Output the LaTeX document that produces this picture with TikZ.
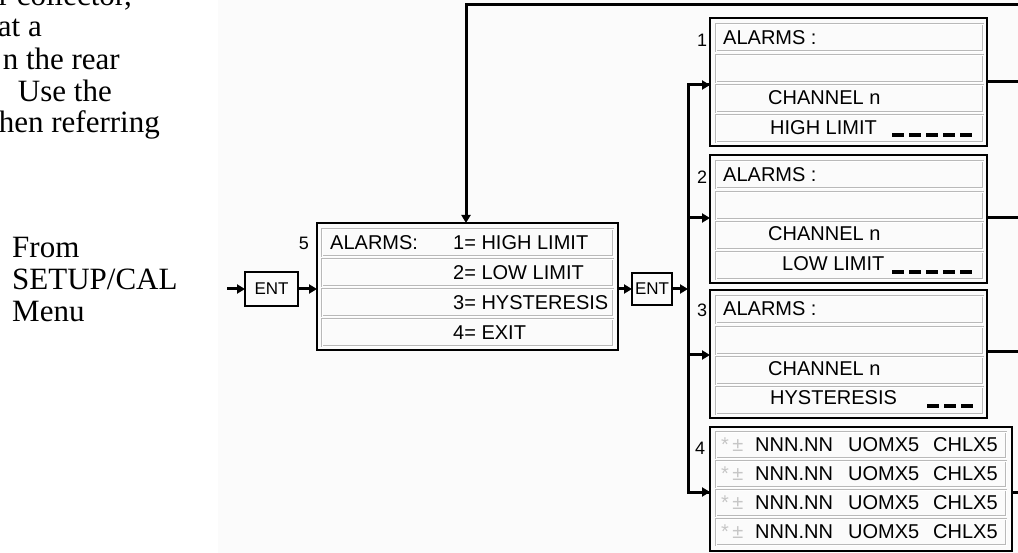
\documentclass[tikz,border=0pt]{standalone}
\usepackage{fontspec}
\setmainfont{Liberation Serif}
\newfontfamily\lcd{Liberation Sans}
\usetikzlibrary{arrows.meta}
\begin{document}
\begin{tikzpicture}[x=1pt,y=-1pt,
  outerbox/.style={draw=black,line width=2pt,inner sep=0pt,outer sep=0pt,anchor=north west},
  rowbox/.style={draw=gray!55,double=white,double distance=0.9pt,line width=0.5pt,inner sep=0pt,outer sep=0pt,anchor=north west},
  lcdtext/.style={font=\lcd\fontsize{20}{20}\selectfont,inner sep=0pt,anchor=west},
  numlabel/.style={font=\lcd\fontsize{18}{18}\selectfont,inner sep=0pt},
  entbox/.style={draw=black,line width=2pt,inner sep=0pt,outer sep=0pt,font=\lcd\fontsize{17}{17}\selectfont},
  wire/.style={draw=black,line width=3pt},
  arr/.style={wire,-{Triangle[length=8pt,width=9pt]}},
  dashline/.style={draw=black,line width=3.5pt,dash pattern=on 12pt off 5pt},
  serif/.style={font=\fontsize{31}{32}\selectfont,inner sep=0pt}]
\useasboundingbox (0,0) rectangle (1018,553);
\clip (0,0) rectangle (1018,553);
\fill[black!1.5] (218,0) rectangle (1018,553);

% left prose
\node[serif,anchor=base east] (p1) at (132,6) {r collector,};
\node[serif,anchor=base east] (p2) at (42,37) {at a};
\node[serif,anchor=base east] (p3) at (120,70) {n the rear};
\node[serif,anchor=base east] (p4) at (112,102) {Use the};
\node[serif,anchor=base east] (p5) at (160,133) {hen referring};
\node[serif,anchor=base west] (f1) at (12,258) {From};
\node[serif,anchor=base west] (f2) at (12,290) {SETUP/CAL};
\node[serif,anchor=base west] (f3) at (12,322) {Menu};

% main menu box
\node[outerbox,minimum width=301,minimum height=127] (m) at (317,223) {};
\foreach \y in {229,259,289,319}
  \node[rowbox,minimum width=291,minimum height=27] at (322,\y) {};
\node[numlabel] (l5) at (304,243) {5};
\node[lcdtext] (m1a) at (330,243) {ALARMS:};
\node[lcdtext] (m1b) at (453,243) {1= HIGH LIMIT};
\node[lcdtext] (m2) at (453,273) {2= LOW LIMIT};
\node[lcdtext] (m3) at (453,303) {3= HYSTERESIS};
\node[lcdtext] (m4) at (453,333) {4= EXIT};

% ENT keys
\node[entbox,minimum width=53,minimum height=34] (e1) at (271.5,289) {ENT};
\node[entbox,minimum width=40,minimum height=32] (e2) at (652,289) {ENT};
\coordinate (in) at (227,289);

% right boxes
\node[outerbox,minimum width=277,minimum height=128] (b1) at (710,18) {};
\foreach \y in {24,55,85,115}
  \node[rowbox,minimum width=267,minimum height=27] at (716,\y) {};
\node[outerbox,minimum width=277,minimum height=128] (b2) at (710,155) {};
\foreach \y in {161,192,222,252}
  \node[rowbox,minimum width=267,minimum height=27] at (716,\y) {};
\node[outerbox,minimum width=277,minimum height=128] (b3) at (710,290) {};
\foreach \y in {296,327,357,387}
  \node[rowbox,minimum width=267,minimum height=27] at (716,\y) {};
\node[outerbox,minimum width=302,minimum height=124] (b4) at (710,427) {};
\foreach \y in {432,461,490,519}
  \node[rowbox,minimum width=290,minimum height=26] at (716,\y) {};

\node[numlabel] (l1) at (702,40) {1};
\node[lcdtext] (b1a) at (723,38) {ALARMS :};
\node[lcdtext] (b1c) at (768,98) {CHANNEL n};
\node[lcdtext] (b1d) at (770,128) {HIGH LIMIT};
\draw[dashline] (892,135) -- (973,135);

\node[numlabel] (l2) at (702,177) {2};
\node[lcdtext] (b2a) at (723,175) {ALARMS :};
\node[lcdtext] (b2c) at (768,234) {CHANNEL n};
\node[lcdtext] (b2d) at (782,264) {LOW LIMIT};
\draw[dashline] (892,272) -- (973,272);

\node[numlabel] (l3) at (702,310) {3};
\node[lcdtext] (b3a) at (723,309) {ALARMS :};
\node[lcdtext] (b3c) at (768,369) {CHANNEL n};
\node[lcdtext] (b3d) at (770,398) {HYSTERESIS};
\draw[dashline] (927,406) -- (973,406);

\node[numlabel] (l4) at (700,448) {4};
\foreach \y/\n in {445/r1,474/r2,503/r3,532/r4}{
  \node[lcdtext,text=gray!45] (g\n) at (721,\y) {*\,±};
  \node[lcdtext] (n\n) at (755,\y) {NNN.NN};
  \node[lcdtext] (u\n) at (848,\y) {UOMX5};
  \node[lcdtext] (c\n) at (933,\y) {CHLX5};
}

% connectors
\draw[arr] (in) -- (e1.west);
\draw[arr] (e1.east) -- (m.west |- e1.east);
\draw[arr] (m.east |- e2.west) -- (e2.west);
\coordinate (bt) at (688,85);
\coordinate (j2) at (688,218);
\coordinate (j3) at (688,355);
\coordinate (bb) at (688,492);
\draw[arr] (e2.east) -- (e2.east -| bt);
\draw[wire,line join=miter] (bt -| b1.west) -- (bt) -- (bb) -- (bb -| b4.west);
\draw[arr] (bt) -- (bt -| b1.west);
\draw[arr] (j2) -- (j2 -| b2.west);
\draw[arr] (j3) -- (j3 -| b3.west);
\draw[arr] (bb) -- (bb -| b4.west);

\coordinate (o1) at (1018,82);
\coordinate (o2) at (1018,218);
\coordinate (o3) at (1018,352);
\coordinate (o4) at (1018,492);
\draw[wire] (o1 -| b1.east) -- (o1);
\draw[wire] (o2 -| b2.east) -- (o2);
\draw[wire] (o3 -| b3.east) -- (o3);
\draw[wire] (o4 -| b4.east) -- (o4);

\coordinate (tr) at (1018,5);
\coordinate (tc) at (466,5);
\draw[wire] (tr) -- (tc);
\draw[arr] ([yshift=1.5pt]tc) -- (tc |- m.north);
\end{tikzpicture}
\end{document}
